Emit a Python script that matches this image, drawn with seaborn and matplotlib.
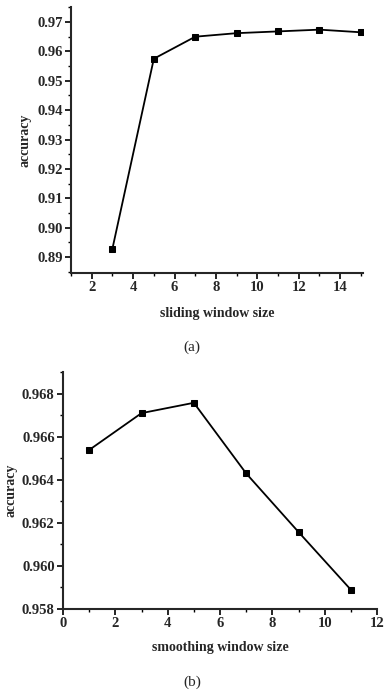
import matplotlib
matplotlib.use("Agg")
import matplotlib.pyplot as plt
from matplotlib.ticker import MultipleLocator, FormatStrFormatter
import seaborn as sns
import pandas as pd

# --- data ---
sliding_size = [3, 5, 7, 9, 11, 13, 15]
sliding_acc = [0.8929, 0.9575, 0.9650, 0.9662, 0.9668, 0.9674, 0.9665]

smoothing_size = [1, 3, 5, 7, 9, 11]
smoothing_acc = [0.96538, 0.96709, 0.96757, 0.96429, 0.96157, 0.95889]

sns.set_theme(style="ticks")
plt.rcParams['font.family'] = ['Liberation Serif', 'DejaVu Serif']
plt.rcParams['font.weight'] = 'bold'
plt.rcParams['axes.labelweight'] = 'bold'

fig = plt.figure(figsize=(3.84, 6.94), dpi=100)
ax1 = fig.add_axes([0.185, 0.6066, 0.760, 0.3833])
ax2 = fig.add_axes([0.164, 0.1225, 0.818, 0.3415])

df_a = pd.DataFrame({"size": sliding_size, "acc": sliding_acc})
df_b = pd.DataFrame({"size": smoothing_size, "acc": smoothing_acc})

for ax, df in [(ax1, df_a), (ax2, df_b)]:
    sns.lineplot(data=df, x="size", y="acc", ax=ax, color="black",
                 marker="s", markersize=4.5, markeredgecolor="black",
                 linewidth=1.3)

# --- axes (a) ---
ax1.set_xlim(1, 15.1)
ax1.set_ylim(0.8846, 0.9751)
ax1.xaxis.set_major_locator(MultipleLocator(2))
ax1.xaxis.set_minor_locator(MultipleLocator(1))
ax1.yaxis.set_major_locator(MultipleLocator(0.01))
ax1.yaxis.set_minor_locator(MultipleLocator(0.005))
ax1.yaxis.set_major_formatter(FormatStrFormatter('%.2f'))
ax1.set_xlabel("sliding window size", fontsize=10, fontweight='bold', labelpad=9)
ax1.set_ylabel("accuracy", fontsize=10, fontweight='bold', labelpad=4)

# --- axes (b) ---
ax2.set_xlim(0, 12)
ax2.set_ylim(0.958, 0.969)
ax2.xaxis.set_major_locator(MultipleLocator(2))
ax2.xaxis.set_minor_locator(MultipleLocator(1))
ax2.yaxis.set_major_locator(MultipleLocator(0.002))
ax2.yaxis.set_minor_locator(MultipleLocator(0.001))
ax2.yaxis.set_major_formatter(FormatStrFormatter('%.3f'))
ax2.set_xlabel("smoothing window size", fontsize=10, fontweight='bold', labelpad=8)
ax2.set_ylabel("accuracy", fontsize=10, fontweight='bold', labelpad=3)

for ax in (ax1, ax2):
    sns.despine(ax=ax)
    ax.spines['left'].set_linewidth(1.5)
    ax.spines['bottom'].set_linewidth(1.5)
    ax.tick_params(which='major', direction='out', length=4, width=1.2,
                   labelsize=10.5, color='black', pad=2)
    ax.tick_params(which='minor', direction='out', length=2.5, width=1,
                   color='black')
    for lab in ax.get_xticklabels() + ax.get_yticklabels():
        lab.set_fontweight('bold')

fig.text(0.5, 1 - 347 / 694, "(a)", ha='center', va='center', fontsize=11,
         fontweight='normal')
fig.text(0.5, 1 - 682 / 694, "(b)", ha='center', va='center', fontsize=11,
         fontweight='normal')

fig.savefig("out.png", dpi=100)
